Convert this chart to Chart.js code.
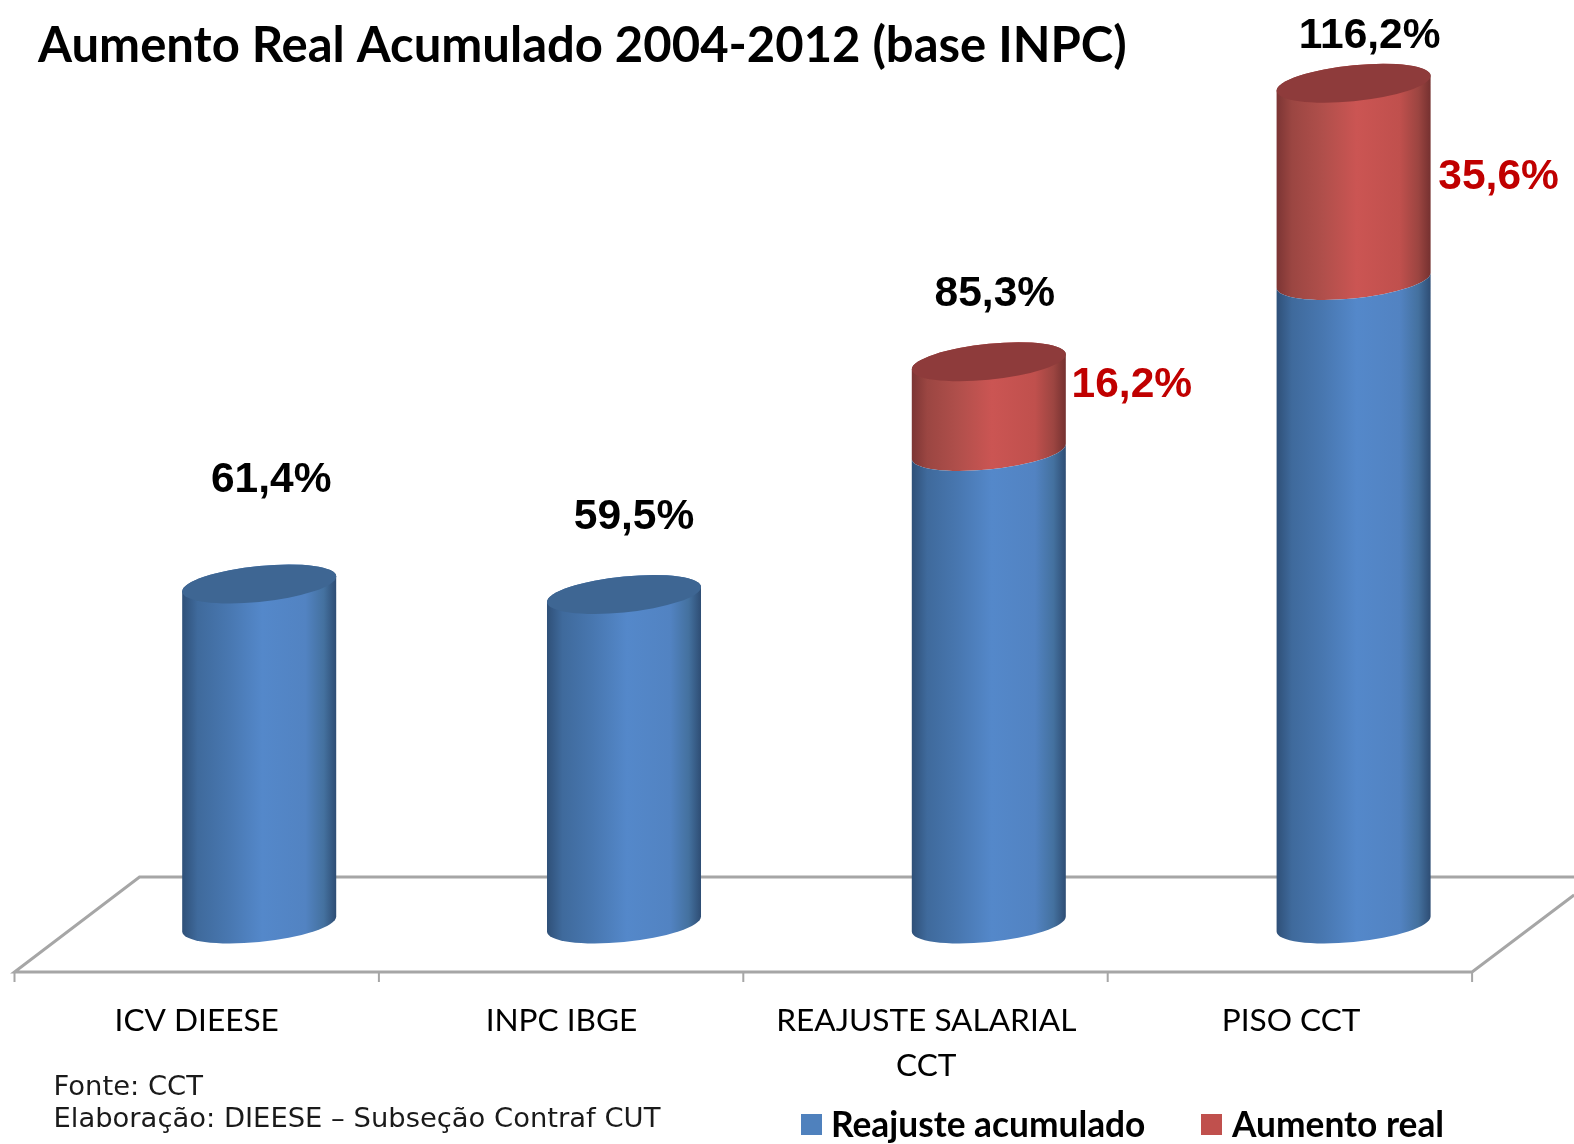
<!DOCTYPE html>
<html><head><meta charset="utf-8">
<style>html,body{margin:0;padding:0;background:#fff}canvas{display:block}</style>
<script src="https://cdn.jsdelivr.net/npm/chart.js@4/dist/chart.umd.js"></script>
</head><body>
<canvas id="c" width="1574" height="1144"></canvas>
<script>
const categories = ['ICV DIEESE', 'INPC IBGE', ['REAJUSTE SALARIAL', 'CCT'], 'PISO CCT'];
const reajusteAcumulado = [61.4, 59.5, 85.3, 116.2];
const aumentoReal = [null, null, 16.2, 35.6];
const seriesNames = ['Reajuste acumulado', 'Aumento real'];
const titleText = 'Aumento Real Acumulado 2004-2012 (base INPC)';
const sourceLines = ['Fonte: CCT', 'Elaboração: DIEESE – Subseção Contraf CUT'];

const BLUE = '#4F81BD', RED = '#C0504D';
const shades = {
  [BLUE]: {cap:'#3E6693', stops:[[0,'#2F5078'],[.1,'#3F6A9C'],[.3,'#4877B0'],[.52,'#5488CA'],[.8,'#5283C2'],[.92,'#44719F'],[1,'#2E4D74']]},
  [RED]:  {cap:'#8E3B3B', stops:[[0,'#7C3534'],[.1,'#9B4642'],[.3,'#B04F4B'],[.52,'#CB5553'],[.8,'#C0504D'],[.92,'#9C4541'],[1,'#753130']]}
};
const SHEAR = -7.5/77, RY = 18, BAR_SHIFT = 62.5, DEPTH_BACK = 47, DEPTH_FRONT = 48, DEPTH_DX = 125;
// label anchors relative to the top of each bar stack
const totalLabelOffset = [[12,-103.4],[10,-76.7],[6,-67.5],[16,-47]];
const realLabelOffset = [null,null,[143,23.5],[145,94]];
const fmt = v => v.toFixed(1).replace('.', ',') + '%';

function half(ctx, x, cy, r, a, b, ccw){
  ctx.save(); ctx.transform(1, SHEAR, 0, 1, x, cy);
  ctx.ellipse(0, 0, r, RY, 0, a, b, !!ccw); ctx.restore();
}
// Cylinder look for the library's own bar elements
Chart.BarElement.prototype.draw = function(ctx){
  const {x, y, base, width} = this.getProps(['x','y','base','width']);
  if (this.skip || !isFinite(y) || !isFinite(base) || Math.abs(base - y) < 1) return;
  const r = width/2, s = shades[this.options.backgroundColor];
  const g = ctx.createLinearGradient(x-r, 0, x+r, 0);
  s.stops.forEach(p => g.addColorStop(p[0], p[1]));
  ctx.save();
  ctx.beginPath();
  if (this.coveredAbove) half(ctx, x, y, r, Math.PI, 0, true);
  else half(ctx, x, y, r, Math.PI, 2*Math.PI);
  half(ctx, x, base, r, 0, Math.PI);
  ctx.closePath();
  ctx.fillStyle = g; ctx.fill();
  if (!this.coveredAbove){
    ctx.beginPath();
    half(ctx, x, y, r, 0, 2*Math.PI);
    ctx.fillStyle = s.cap; ctx.fill();
  }
  ctx.restore();
};

const floorPlugin = {
  id:'floor',
  beforeDatasetsDraw(chart){
    const {ctx, scales:{x, y}} = chart;
    chart.getDatasetMeta(0).data.forEach((el, i) => { el.coveredAbove = aumentoReal[i] != null; });
    const step = x.getPixelForValue(1) - x.getPixelForValue(0) - 0.4;
    const y0 = y.getPixelForValue(0), front = y0 + DEPTH_FRONT, back = y0 - DEPTH_BACK;
    const left = x.getPixelForValue(0) - BAR_SHIFT - step/2;
    const right = left + step*categories.length;
    ctx.save();
    ctx.strokeStyle = '#A6A6A6'; ctx.lineWidth = 3;
    ctx.beginPath();
    ctx.moveTo(right + 102, back + 18); ctx.lineTo(right, front);
    ctx.lineTo(left, front); ctx.lineTo(left + DEPTH_DX, back); ctx.lineTo(chart.width, back);
    ctx.stroke();
    ctx.lineWidth = 2; ctx.beginPath();
    for (let i = 0; i <= categories.length; i++){
      const tx = left + i*step;
      ctx.moveTo(tx, front); ctx.lineTo(tx, front + 10);
    }
    ctx.stroke();
    ctx.restore();
  }
};

const textPlugin = {
  id:'texts',
  afterDatasetsDraw(chart){
    const {ctx} = chart;
    const m0 = chart.getDatasetMeta(0).data, m1 = chart.getDatasetMeta(1).data, y = chart.scales.y;
    ctx.save();
    ctx.textAlign = 'center'; ctx.textBaseline = 'middle';
    ctx.font = 'bold 42.5px "Liberation Sans"';
    reajusteAcumulado.forEach((v, i) => {
      const top = y.getPixelForValue(v + (aumentoReal[i] || 0));
      ctx.fillStyle = '#000';
      ctx.fillText(fmt(v), m0[i].x + totalLabelOffset[i][0], top + totalLabelOffset[i][1]);
      if (aumentoReal[i] != null){
        ctx.fillStyle = '#C00000';
        ctx.fillText(fmt(aumentoReal[i]), m1[i].x + realLabelOffset[i][0], top + realLabelOffset[i][1]);
      }
    });
    // source note
    ctx.textAlign = 'left'; ctx.fillStyle = '#1a1a1a';
    ctx.font = '27.4px "DejaVu Sans"';
    ctx.fillText(sourceLines[0], 53.5, 1088);
    ctx.fillText(sourceLines[1], 53.5, 1119.5);
    // legend
    const legendX = [[801, 831], [1201, 1232]];
    ctx.font = 'bold 35.3px Lato';
    chart.data.datasets.forEach((d, i) => {
      ctx.fillStyle = d.backgroundColor;
      ctx.fillRect(legendX[i][0], 1114, 21, 21);
      ctx.fillStyle = '#000';
      ctx.fillText(d.label, legendX[i][1], 1126);
    });
    ctx.restore();
  }
};

new Chart(document.getElementById('c').getContext('2d'), {
  type:'bar',
  data:{
    labels:categories,
    datasets:[
      {label:seriesNames[0], data:reajusteAcumulado, backgroundColor:BLUE, clip:false},
      {label:seriesNames[1], data:aumentoReal, backgroundColor:RED, clip:false}
    ]
  },
  options:{
    responsive:false, animation:false, devicePixelRatio:1,
    categoryPercentage:1, barPercentage:0.4222,
    layout:{padding:{left:38, right:38, top:0, bottom:60}},
    plugins:{
      legend:{display:false}, tooltip:{enabled:false},
      title:{display:true, text:titleText, align:'start', color:'#000',
        font:{family:'Lato', weight:'bold', size:49, lineHeight:1.2}, padding:{top:17, bottom:0}}
    },
    scales:{
      x:{stacked:true, grid:{display:false}, border:{display:false},
        afterFit(s){ s.height = 160; },
        ticks:{autoSkip:false, maxRotation:0, minRotation:0, padding:66, labelOffset:-BAR_SHIFT, color:'#000',
          font:{family:'Lato', size:31.6, lineHeight:1.43}}},
      y:{stacked:true, min:0, max:153.14, grid:{display:false}, border:{display:false},
        afterFit(s){ s.width = 38.8; },
        ticks:{display:false}}
    }
  },
  plugins:[floorPlugin, textPlugin]
});
</script>
</body></html>
